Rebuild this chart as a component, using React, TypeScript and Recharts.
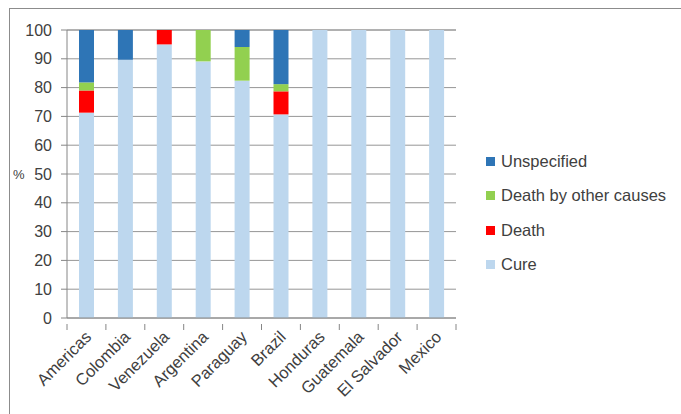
import React from 'react';
import { BarChart, Bar, XAxis, YAxis, CartesianGrid } from 'recharts';

const categories = ['Americas', 'Colombia', 'Venezuela', 'Argentina', 'Paraguay', 'Brazil', 'Honduras', 'Guatemala', 'El Salvador', 'Mexico'];
const cure = [71.3, 89.7, 95, 89.1, 82.4, 70.7, 100, 100, 100, 100];
const death = [7.7, 0, 5, 0, 0, 8.0, 0, 0, 0, 0];
const otherDeath = [2.8, 0, 0, 10.9, 11.7, 2.5, 0, 0, 0, 0];
const unspecified = [18.2, 10.3, 0, 0, 5.9, 18.8, 0, 0, 0, 0];
const yTicks = [0, 10, 20, 30, 40, 50, 60, 70, 80, 90, 100];

const series = [
  { key: 'cure', name: 'Cure', color: '#BDD7EE' },
  { key: 'death', name: 'Death', color: '#FF0000' },
  { key: 'otherDeath', name: 'Death by other causes', color: '#92D050' },
  { key: 'unspecified', name: 'Unspecified', color: '#2E75B6' },
];

const data = categories.map((c, i) => ({
  name: c,
  cure: cure[i],
  death: death[i],
  otherDeath: otherDeath[i],
  unspecified: unspecified[i],
}));

const FONT = '"Liberation Sans", Arial, sans-serif';
const CHART_W = 681;
const CHART_H = 414;
const MARGIN = { top: 30, right: 225, bottom: 0, left: 0 };
const Y_W = 67;
const PLOT_W = CHART_W - MARGIN.left - MARGIN.right - Y_W;
const BAND = PLOT_W / categories.length;

const LegendBox = () => (
  <div style={{ position: 'absolute', left: 486, top: 144, width: 195, fontFamily: FONT, fontSize: 16.5, color: '#404040' }}>
    {[...series].reverse().map((s) => (
      <div key={s.key} style={{ display: 'flex', alignItems: 'center', height: 34.5 }}>
        <div style={{ width: 9, height: 9, background: s.color, marginRight: 6 }} />
        <span>{s.name}</span>
      </div>
    ))}
  </div>
);

const XTick = (props: any) => {
  const { x, y, payload, index } = props;
  const ty = y - 2;
  const lx = x + 6;
  const ly = y + 12;
  return (
    <g>
      {index === 0 && <line x1={x - BAND / 2} x2={x - BAND / 2} y1={ty} y2={ty + 6} stroke="#868686" />}
      <line x1={x + BAND / 2} x2={x + BAND / 2} y1={ty} y2={ty + 6} stroke="#868686" />
      <text
        x={lx}
        y={ly}
        transform={`rotate(-45, ${lx}, ${ly})`}
        textAnchor="end"
        fontFamily={FONT}
        fontSize={16.5}
        fill="#404040"
      >
        {payload.value}
      </text>
    </g>
  );
};

export default function App() {
  return (
    <div style={{ position: 'absolute', left: 0, top: 0, width: 681, height: 414, background: '#fff', overflow: 'hidden' }}>
      <div style={{ position: 'absolute', left: 9, top: 8, width: 700, height: 420, border: '1px solid #8C8C8C', boxSizing: 'border-box' }} />
      <BarChart
        width={CHART_W}
        height={CHART_H}
        data={data}
        margin={MARGIN}
        style={{ position: 'absolute', left: 0, top: 0 }}
      >
        <CartesianGrid vertical={false} stroke="#969696" strokeWidth={1} />
        <XAxis
          dataKey="name"
          interval={0}
          height={96}
          axisLine={{ stroke: '#868686' }}
          tickLine={false}
          tick={<XTick />}
        />
        <YAxis
          domain={[0, 100]}
          ticks={yTicks}
          interval={0}
          width={Y_W}
          axisLine={{ stroke: '#868686' }}
          tickLine={{ stroke: '#868686' }}
          tickSize={6}
          tickMargin={9}
          tick={{ fontFamily: FONT, fontSize: 16, fill: '#404040' }}
          label={{ value: '%', position: 'insideLeft', offset: 13, style: { fontFamily: FONT, fontSize: 13, fill: '#404040' } }}
        />
        {series.map((s) => (
          <Bar
            key={s.key}
            dataKey={s.key}
            name={s.name}
            stackId="a"
            fill={s.color}
            barSize={15}
            isAnimationActive={false}
          />
        ))}
      </BarChart>
      <LegendBox />
    </div>
  );
}
